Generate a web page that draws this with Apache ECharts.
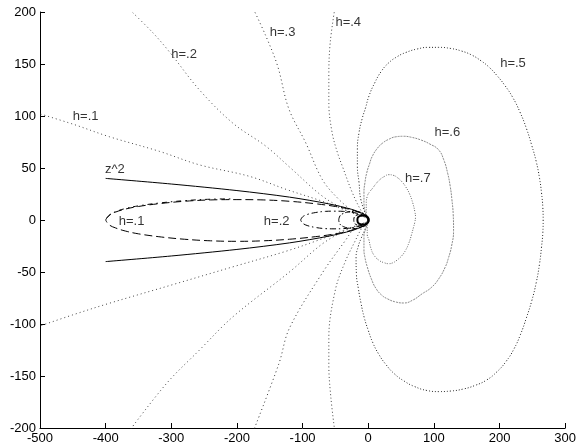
<!DOCTYPE html>
<html>
<head>
<meta charset="utf-8">
<script src="https://cdn.jsdelivr.net/npm/echarts@6/dist/echarts.min.js"></script>
<style>html,body{margin:0;padding:0;background:#fff}#c{width:579px;height:448px}</style>
</head>
<body>
<div id="c"></div>
<script>
// ---- data ----
const xTicks = [-500, 300, 100];   // min, max, step
const yTicks = [-200, 200, 50];

const h1 = [[-505,103],[-449,92],[-394,80],[-318,66],[-257,53],[-181,42],[-123,29],[-70,18],[-30,8],[0,0],
            [-30,-8],[-70,-18],[-125,-30],[-206,-45],[-297,-62],[-394,-80],[-449,-91],[-505,-103]];
const h2 = [[-363,202],[-328,180],[-302,161],[-257,125],[-206,93],[-156,71],[-120,51],[-70,23],[-35,10],[0,0],
            [-35,-10],[-70,-23],[-120,-50],[-206,-93],[-257,-125],[-307,-157],[-363,-202]];
const h3 = [[-175,203],[-156,177],[-138,148],[-121,107],[-95,74],[-70,39],[-45,20],[-20,7],[0,0],
            [-20,-7],[-34,-19],[-70,-51],[-120,-104],[-136,-138],[-175,-203]];
const h4 = [[-51,203],[-58,170],[-60,140],[-60,112],[-55,84],[-47,65],[-39,51],[-24,26],[-10,8],[0,0],
            [-10,-8],[-19,-19],[-35,-40],[-50,-67],[-60,-113],[-60,-140],[-57,-170],[-51,-203]];
const h5 = [[0,0],[-11,19],[-14,36],[-16.5,52],[-16.5,68],[-14,84],[-9,98],[-4,108],[1,119],[10,132],[20,143],
            [31,151],[44,157],[57,161],[75,164.5],[92,166],[107,166],[125,165],[142,162.5],[158,158.5],[172,153],
            [184,147],[196,139],[208,129.5],[220,118],[231,104],[241,88],[249,72],[256,56],[261,40],[264,26],
            [266,12],[266.5,0],[266,-12],[264,-26],[261,-42],[256,-60],[249,-78],[241,-94],[232,-110],[222,-124],
            [210,-136],[196,-146],[180,-154],[163,-159],[145,-162.5],[125,-164.5],[107,-165],[90,-164],[70,-160],
            [55,-155],[40,-148],[27,-139],[16,-129],[7,-118],[0,-106],[-6,-94],[-11,-80],[-15,-66],[-18,-52],
            [-18.5,-36],[-15,-25],[-11,-18],[-5,-9],[0,0]];
const h6 = [[0,0],[-6.5,16],[-6.5,26],[-5,36],[-2,46],[2,54],[6,61],[14,69],[22,74],[31,77.5],[42,80],[54,80.5],
            [66,79.5],[80,77],[94,73],[107,67.6],[115,58],[121,45],[125,32],[127.5,19.5],[129.5,5],[130,-10],
            [127,-25],[122,-37],[117.5,-45],[108,-56],[96,-65],[82,-71],[68,-77],[54,-79.8],[40,-78.5],[30,-76],
            [21,-72.5],[12,-66],[5,-57],[-1.5,-45],[-5,-36],[-6.5,-28.6],[-6.5,-16],[-3,-7],[0,0]];
const h7 = [[0,0],[-3,7],[-3,15],[-1.5,22.7],[2,27],[6,30],[12,35],[18,39],[25,42],[31,43.6],[38,43],[45,40.5],
            [51,37],[57,32],[63,25],[68,16],[71,8],[72,3],[71,-2],[69,-7],[66,-14],[62,-22],[57,-29],[51,-34.5],
            [44,-38.5],[38,-41],[31,-42],[24,-41],[17,-39],[9,-34],[4,-27],[1,-19],[-1.5,-14],[-1.5,-7],[0,0]];
const zSquared = [[-400,40],[-300,34.6],[-200,28.3],[-120,22],[-60,15.5],[-25,10.2],[-8,6],[0,2.5],[1,0],
                  [0,-2.5],[-8,-6],[-25,-10.2],[-60,-15.5],[-120,-22],[-200,-28.3],[-300,-34.6],[-400,-40]];
const ellipseA = [[-400,0],[-395,4.5],[-385,7.6],[-370,10.5],[-350,13],[-320,15.6],[-280,18],[-240,19.3],[-200,19.6],
                  [-160,19.3],[-120,18],[-80,15.6],[-50,13],[-30,10.5],[-15,7.6],[-5,4.5],[0,0],
                  [-5,-4.5],[-15,-7.6],[-30,-10.6],[-50,-13.3],[-80,-16],[-120,-18.5],[-160,-20],[-200,-20.5],
                  [-240,-20],[-280,-18.5],[-320,-16],[-350,-13.3],[-370,-10.6],[-385,-7.6],[-395,-4.5],[-400,0]];
const ellipseA2 = [[-398,2],[-392,5.5],[-385,8],[-370,11],[-350,13.6],[-320,16.2],[-280,18.6],[-240,20],[-210,20.3]];
const ellipseB = [[-103,0],[-100,3],[-93,5.3],[-80,7.2],[-65,8.3],[-52,8.5],[-38,8.3],[-23,7.2],[-10,5.3],[-3,3],[0,0],
                  [-3,-3],[-10,-5.3],[-23,-7.2],[-38,-8.3],[-52,-8.5],[-65,-8.3],[-80,-7.2],[-93,-5.3],[-100,-3],[-103,0]];
const ellipseC = [[-45,0],[-43,4],[-38,6.3],[-30,7.8],[-22,8.2],[-14,7.8],[-7,6.3],[-2,4],[0,0],
                  [-2,-4],[-7,-6.3],[-14,-7.8],[-22,-8.2],[-30,-7.8],[-38,-6.3],[-43,-4],[-45,0]];
const ellipseD = [[-22,0],[-21,3],[-17,4.8],[-11,5.5],[-5,4.8],[-1,3],[0,0],[-1,-3],[-5,-4.8],[-11,-5.5],[-17,-4.8],[-21,-3],[-22,0]];
const circleE = [[-16.5,0],[-15.5,2.6],[-12,4],[-8,4.4],[-4,4],[-0.5,2.6],[0.8,0],[-0.5,-2.6],[-4,-4],[-8,-4.4],[-12,-4],[-15.5,-2.6],[-16.5,0]];

const labels = [
  ['h=.1',-450,99.5],['h=.2',-300,159.5],['h=.3',-150,180],['h=.4',-50,189.5],
  ['h=.5',201,151],['h=.6',101,84.5],['h=.7',56,39.5],['z^2',-401,48.5],
  ['h=.1',-380,-1],['h=.2',-159,-1]
];

// ---- chart ----
const FONT = '"Liberation Sans", Arial, Helvetica, sans-serif';
function curve(data, color, type, width, smooth) {
  return {type:'line', data, symbol:'none', smooth: smooth === undefined ? 0.35 : smooth,
          lineStyle:{color, type, width: width || 1}, silent:true, z:2, animation:false};
}
const chart = echarts.init(document.getElementById('c'), null, {renderer:'canvas'});
chart.setOption({
  animation:false,
  backgroundColor:'#fff',
  grid:{left:40, right:12, top:12, bottom:20, containLabel:false},
  xAxis:{type:'value', min:xTicks[0], max:xTicks[1], interval:xTicks[2],
    axisLine:{show:true, onZero:false, lineStyle:{color:'#000', width:1}},
    axisTick:{show:true, inside:true, length:5, lineStyle:{color:'#000'}},
    axisLabel:{color:'#000', fontSize:13, fontFamily:FONT, margin:4},
    splitLine:{show:false}},
  yAxis:{type:'value', min:yTicks[0], max:yTicks[1], interval:yTicks[2],
    axisLine:{show:true, onZero:false, lineStyle:{color:'#000', width:1}},
    axisTick:{show:true, inside:true, length:5, lineStyle:{color:'#000'}},
    axisLabel:{color:'#000', fontSize:13, fontFamily:FONT, margin:4},
    splitLine:{show:false}},
  series:[
    curve(h1, '#444', [1,3]),
    curve(h2, '#444', [1,3]),
    curve(h3, '#333', [1,3]),
    curve(h4, '#444', [1,2.5]),
    curve(h5, '#222', [1,2], 1, 0.5),
    curve(h6, '#8a8a8a', [2,1], 1, 0.5),
    curve(h7, '#666', [1,1.5], 1, 0.5),
    curve(zSquared, '#000', 'solid', 1, 0.3),
    curve(ellipseA, '#000', [8,4], 1, 0.4),
    curve(ellipseA2, '#000', [5,4,1.5,4], 1, 0.4),
    curve(ellipseB, '#000', [6,3,1.5,3], 1, 0.4),
    curve(ellipseC, '#000', [5,2,1.5,2], 1, 0.4),
    curve(ellipseD, '#000', [3,2], 1, 0.4),
    curve(circleE, '#000', 'solid', 2, 0.4),
    {type:'scatter', data: labels.map(l => [l[1], l[2], l[0]]), symbolSize:0, silent:true, z:5,
     label:{show:true, position:'right', distance:0, color:'#000', fontSize:13, fontFamily:FONT,
            formatter: p => p.data[2]}}
  ]
});
</script>
</body>
</html>
